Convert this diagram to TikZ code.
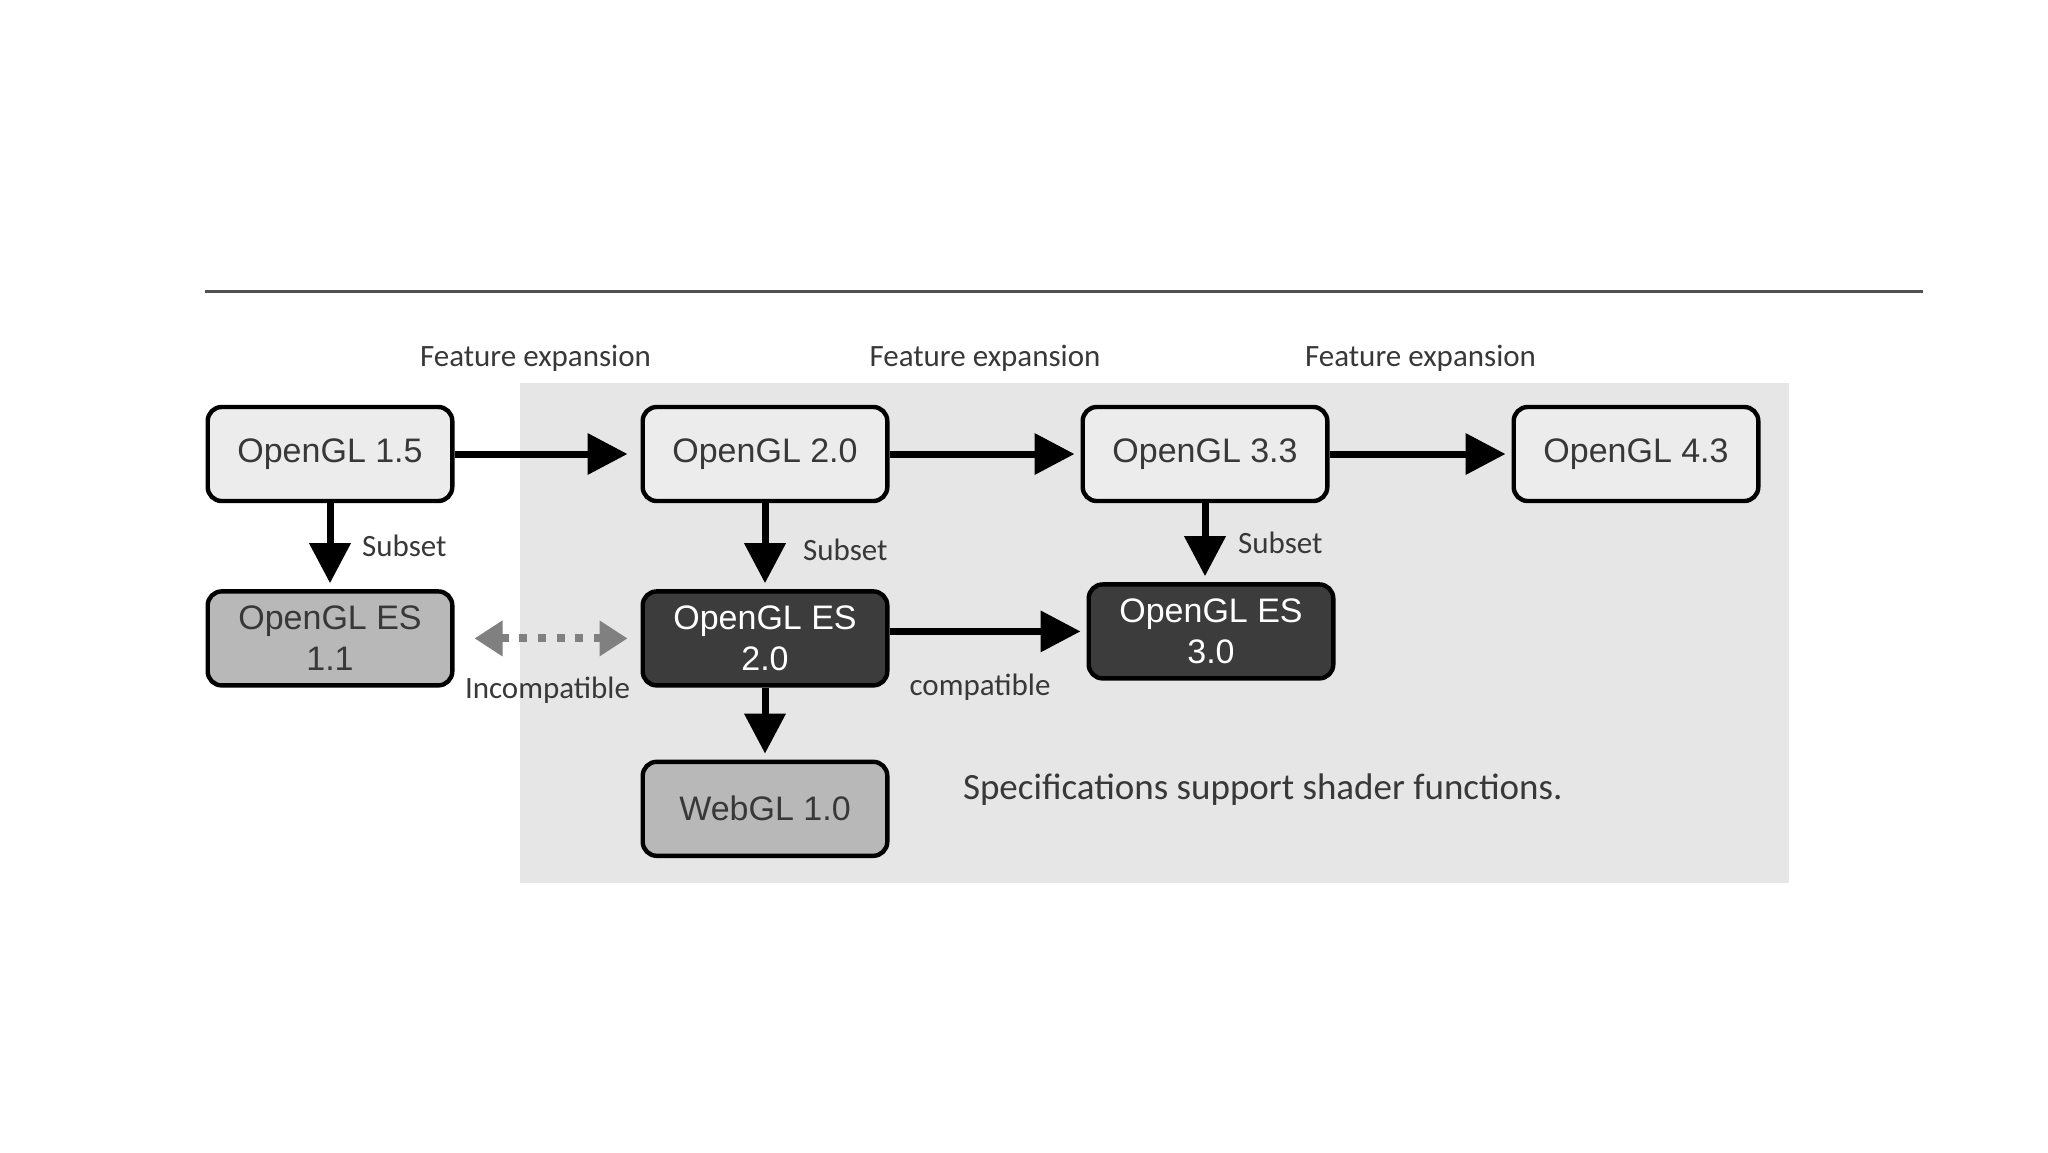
\documentclass[tikz,border=0pt]{standalone}
\usepackage{fontspec}
\setmainfont{Liberation Sans}
\newfontfamily\notefont{Carlito}
\usetikzlibrary{positioning,arrows.meta}
\definecolor{panelgray}{HTML}{E6E6E6}
\definecolor{boxlight}{HTML}{ECECEC}
\definecolor{boxmid}{HTML}{B8B8B8}
\definecolor{boxdark}{HTML}{3C3C3C}
\definecolor{textgray}{HTML}{383838}
\definecolor{rulegray}{HTML}{505050}
\definecolor{dotgray}{HTML}{808080}

\begin{document}
\begin{tikzpicture}[x=0.5pt,y=-0.5pt]
        \tikzstyle{glbox}=[draw=black, line width=2.2pt, rounded corners=7pt, fill=boxlight, text=textgray, minimum width=122.3pt, minimum height=47pt, inner sep=0pt, align=center, font=\fontsize{17}{20.5}\selectfont]
        \tikzstyle{eslight}=[glbox, fill=boxmid]
        \tikzstyle{esdark}=[glbox, fill=boxdark, text=white]
        \tikzstyle{note}=[text=textgray, font=\notefont\fontsize{15.5}{18}\selectfont]
        \tikzstyle{bigarrow}=[draw=black, line width=3.5pt, -{Triangle[length=20pt,width=20pt]}, shorten >=3pt]
        \useasboundingbox (0,0) rectangle (2048,1152);
        % rule and shaded panel
        \draw[rulegray, line width=1.5pt] (205,291) coordinate (rulel) -- (1923,291) coordinate (ruler);
        \fill[panelgray] (520,383) rectangle (1789,883);
        % desktop versions
        \node[glbox] (gl15) at (330,454) {OpenGL 1.5};
        \node[glbox, right=93pt of gl15] (gl20) {OpenGL 2.0};
        \node[glbox, right=95.5pt of gl20] (gl33) {OpenGL 3.3};
        \node[glbox, right=91pt of gl33] (gl43) {OpenGL 4.3};
        % embedded and web versions
        \node[eslight, below=43pt of gl15] (es11) {OpenGL ES\\1.1};
        \node[esdark, below=43pt of gl20] (es20) {OpenGL ES\\2.0};
        \node[esdark, below=39.5pt of gl33, xshift=3pt] (es30) {OpenGL ES\\3.0};
        \node[eslight, below=36pt of es20] (web10) {WebGL 1.0};
        % arrows
        \draw[bigarrow, shorten >=6.5pt] (gl15) -- (gl20) node[midway, yshift=48pt, xshift=-6pt, note] {Feature expansion};
        \draw[bigarrow] (gl20) -- (gl33) node[midway, yshift=48pt, note] {Feature expansion};
        \draw[bigarrow] (gl33) -- (gl43) node[midway, yshift=48pt, note] {Feature expansion};
        \draw[bigarrow] (gl15) -- (es11) node[midway, right=11pt, note] {Subset};
        \draw[bigarrow] (gl20) -- (es20) node[midway, right=14pt, note, yshift=-2pt] {Subset};
        \draw[bigarrow] (gl33.south) -- (gl33.south |- es30.north) node[midway, right=11.5pt, note] {Subset};
        \draw[bigarrow] (es20.east |- es30) -- (es30.west) node[midway, below=16pt, note, xshift=-4pt] {compatible};
        \draw[bigarrow] (es20) -- (web10);
        \draw[dotgray, line width=4pt, dash pattern=on 4pt off 5.3pt, {Triangle[length=14pt,width=17pt]}-{Triangle[length=14pt,width=17pt]}, shorten <=10pt, shorten >=6.5pt] (es11) -- (es20) node[midway, below=14pt, note, text=textgray] {Incompatible};
        \node[note, anchor=west, font=\notefont\fontsize{18.5}{22}\selectfont] (spec) at (956,790) {Specifications support shader functions.};
\end{tikzpicture}
\end{document}
